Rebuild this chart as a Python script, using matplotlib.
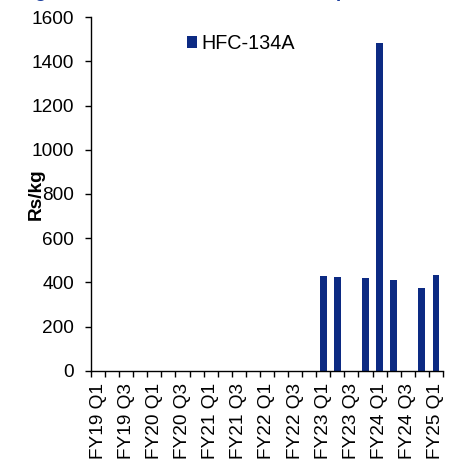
import matplotlib
matplotlib.use("Agg")
import matplotlib.pyplot as plt
import numpy as np

# quarterly HFC-134A realisation, Rs/kg (0 = no data for that quarter)
quarters = ["FY19 Q1", "FY19 Q2", "FY19 Q3", "FY19 Q4",
            "FY20 Q1", "FY20 Q2", "FY20 Q3", "FY20 Q4",
            "FY21 Q1", "FY21 Q2", "FY21 Q3", "FY21 Q4",
            "FY22 Q1", "FY22 Q2", "FY22 Q3", "FY22 Q4",
            "FY23 Q1", "FY23 Q2", "FY23 Q3", "FY23 Q4",
            "FY24 Q1", "FY24 Q2", "FY24 Q3", "FY24 Q4",
            "FY25 Q1"]
hfc_134a = [0, 0, 0, 0, 0, 0, 0, 0, 0, 0, 0, 0, 0, 0, 0, 0,
            429, 425, 0, 420, 1482, 411, 0, 375, 434]
y_ticks = [0, 200, 400, 600, 800, 1000, 1200, 1400, 1600]

bar_col = "#0c2a83"
fs = 13.7

plt.rcParams["font.family"] = ["Liberation Sans", "DejaVu Sans"]

fig = plt.figure(figsize=(4.68, 4.65), dpi=100)
ax = fig.add_axes([0.1944, 0.2022, 0.752, 0.7612])

x = np.arange(len(quarters)) + 0.5
ax.bar(x, hfc_134a, width=0.47, color=bar_col, label="HFC-134A")

ax.set_xlim(0, len(quarters))
ax.set_ylim(0, 1600)
ax.set_yticks(y_ticks)
ax.set_yticklabels([str(v) for v in y_ticks], fontsize=fs)

# tick marks on category boundaries, labels on every other quarter
ax.set_xticks(np.arange(len(quarters) + 1))
ax.set_xticklabels([])
ax.set_xticks(x[::2], minor=True)
ax.set_xticklabels(quarters[::2], minor=True, rotation=90, fontsize=fs)
ax.tick_params(axis="x", which="major", direction="out", length=4, width=1, color="black")
ax.tick_params(axis="x", which="minor", length=0, pad=8.6)
ax.tick_params(axis="y", direction="out", length=4, width=1, pad=8)

for s in ["top", "right"]:
    ax.spines[s].set_visible(False)
for s in ["left", "bottom"]:
    ax.spines[s].set_linewidth(1)

ax.set_ylabel("Rs/kg", fontsize=fs, fontweight="bold")
ax.yaxis.set_label_coords(-0.132, 0.5)

ax.legend(loc="upper left", bbox_to_anchor=(0.2727, 0.952), frameon=False,
          fontsize=14.2, borderpad=0, borderaxespad=0, handlelength=0.5,
          handleheight=0.5, handletextpad=0.25)

# chart heading sits just above the top edge
fig.text(18 / 468, 1 + 3 / 465, "Fig 15: HFC-134A rates have shot up",
         fontsize=fs, fontweight="bold", color="#1c3f9e", va="baseline", ha="left")

fig.savefig("out.png", dpi=100)
